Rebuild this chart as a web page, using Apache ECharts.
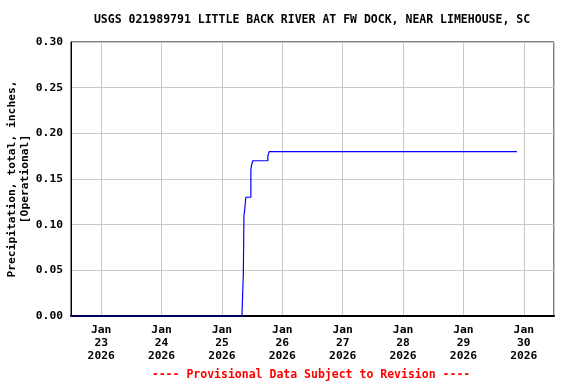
<!DOCTYPE html>
<html>
<head>
<meta charset="utf-8">
<script src="https://cdn.jsdelivr.net/npm/echarts@6/dist/echarts.min.js"></script>
<style>
html,body{margin:0;padding:0;background:#fff;}
#chart{width:576px;height:384px;}
</style>
</head>
<body>
<div id="chart"></div>
<script>
// Data (local times) and cumulative precipitation values, inches
const times = [
  '2026-01-22 12:00',
  '2026-01-25 08:00',
  '2026-01-25 08:30',
  '2026-01-25 08:45',
  '2026-01-25 09:00',
  '2026-01-25 09:30',
  '2026-01-25 11:30',
  '2026-01-25 11:45',
  '2026-01-25 12:15',
  '2026-01-25 18:15',
  '2026-01-25 18:45',
  '2026-01-29 21:15'
];
const values = [0.00, 0.005, 0.045, 0.11, 0.115, 0.13, 0.16, 0.165, 0.17, 0.175, 0.18, 0.18];
const yTicks = [0.00, 0.05, 0.10, 0.15, 0.20, 0.25, 0.30];
const months = ['Jan','Feb','Mar','Apr','May','Jun','Jul','Aug','Sep','Oct','Nov','Dec'];
const titleText = 'USGS 021989791 LITTLE BACK RIVER AT FW DOCK, NEAR LIMEHOUSE, SC';
const yName = 'Precipitation, total, inches,\n[Operational]';
const footerText = '---- Provisional Data Subject to Revision ----';
const xMin = '2026-01-22 12:00';
const xMax = '2026-01-30 12:00';

function parseLocal(s) {
  const [d, t] = s.split(' ');
  const [Y, M, D] = d.split('-').map(Number);
  const [h, m] = t.split(':').map(Number);
  return new Date(Y, M - 1, D, h, m).getTime();
}

const FONT = '"DejaVu Sans Mono", monospace';
const data = times.map((t, i) => [parseLocal(t), values[i]]);
const DAY = 86400000;

const chart = echarts.init(document.getElementById('chart'), null, {renderer: 'canvas'});
chart.setOption({
  animation: false,
  backgroundColor: '#fff',
  grid: {left: 71, right: 22, top: 42, bottom: 68, show: true, borderColor: '#000', borderWidth: 1, outerBoundsMode: 'none', containLabel: false},
  graphic: [
    {type: 'text', x: 312, y: 20, style: {text: titleText, font: 'bold 11.5px ' + FONT, fill: '#000', textAlign: 'center', textVerticalAlign: 'middle'}},
    {type: 'text', x: 311, y: 375, style: {text: footerText, font: 'bold 11.5px ' + FONT, fill: '#ff0000', textAlign: 'center', textVerticalAlign: 'middle'}}
  ],
  xAxis: {
    type: 'time',
    min: parseLocal(xMin),
    max: parseLocal(xMax),
    minInterval: DAY,
    maxInterval: DAY,
    splitNumber: 8,
    axisLine: {show: true, lineStyle: {color: '#000', width: 2}},
    axisTick: {show: false},
    splitLine: {show: true, lineStyle: {color: '#c8c8c8', width: 1}},
    axisLabel: {
      showMinLabel: false, showMaxLabel: false,
      margin: 8,
      color: '#000',
      fontFamily: 'DejaVu Sans Mono',
      fontWeight: 'bold',
      fontSize: 11.3,
      lineHeight: 13,
      formatter: function (v) {
        const d = new Date(v);
        return months[d.getMonth()] + '\n' + d.getDate() + '\n' + d.getFullYear();
      }
    }
  },
  yAxis: {
    type: 'value',
    min: yTicks[0],
    max: yTicks[yTicks.length - 1],
    interval: 0.05,
    name: yName,
    nameLocation: 'middle',
    nameGap: 40,
    nameMoveOverlap: false,
    nameTextStyle: {color: '#000', fontFamily: 'DejaVu Sans Mono', fontWeight: 'bold', fontSize: 11.3, lineHeight: 12.5},
    axisLine: {show: true, lineStyle: {color: '#000', width: 1}},
    axisTick: {show: false},
    splitLine: {show: true, lineStyle: {color: '#c8c8c8', width: 1}},
    axisLabel: {
      margin: 8,
      color: '#000',
      fontFamily: 'DejaVu Sans Mono',
      fontWeight: 'bold',
      fontSize: 11.3,
      formatter: v => v.toFixed(2)
    }
  },
  series: [{
    type: 'line',
    data: data,
    step: 'end',
    showSymbol: false,
    symbol: 'none',
    lineStyle: {color: '#0000ff', width: 1.2},
    itemStyle: {color: '#0000ff'}
  }]
});
</script>
</body>
</html>
